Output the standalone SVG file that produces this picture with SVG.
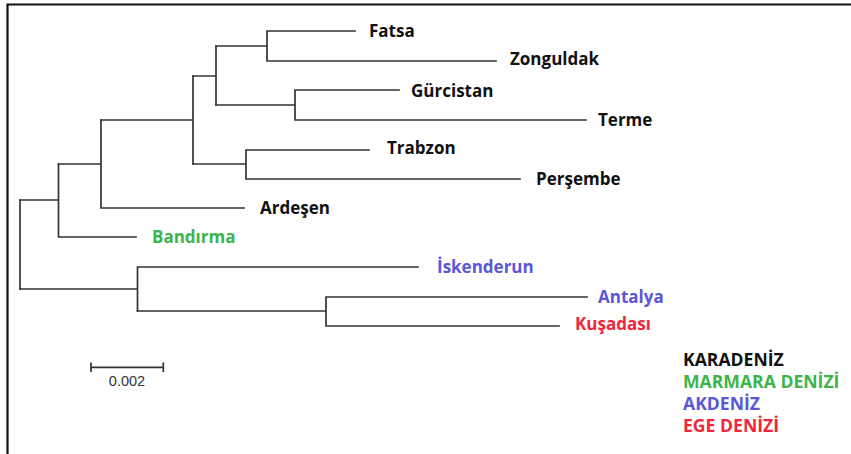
<svg xmlns="http://www.w3.org/2000/svg" width="851" height="454" viewBox="0 0 851 454">
<style>
.br{fill:none;stroke:#333;stroke-width:1.7;stroke-linecap:square}
.lb{font-family:"Open Sans","Liberation Sans",sans-serif;font-weight:bold;font-size:17px}
.lg{font-family:"Open Sans","Liberation Sans",sans-serif;font-weight:bold;font-size:17.6px}
.k{fill:#111}
.g{fill:#3bb54a}
.b{fill:#5a57d8}
.r{fill:#f0263c}
</style>
<rect width="851" height="454" fill="#fff"/>
<path d="M7.5 454V4.5H851" fill="none" stroke="#111" stroke-width="2.2"/>
<g id="connectors" class="br">
<path d="M20 200V289"/>
<path d="M20 200H58.5M58.5 164V237M58.5 237H136"/>
<path d="M58.5 164H101M101 120V208M101 208H244"/>
<path d="M101 120H193M193 76V164"/>
<path d="M193 164H246M246 150V179M246 150H369M246 179H520"/>
<path d="M193 76H216M216 46V105"/>
<path d="M216 46H267M267 31V61M267 31H355M267 61H496"/>
<path d="M216 105H295M295 90V120M295 90H399M295 120H586"/>
<path d="M20 289H137.5M137.5 267V311M137.5 267H418"/>
<path d="M137.5 311H326M326 297V326M326 297H587M326 326H559"/>
</g>
<g id="n-fatsa"><text class="lb k" x="369" y="37">Fatsa</text></g>
<g id="n-zonguldak"><text class="lb k" x="510" y="65">Zonguldak</text></g>
<g id="n-gurcistan"><text class="lb k" x="411" y="97">Gürcistan</text></g>
<g id="n-terme"><text class="lb k" x="598" y="126">Terme</text></g>
<g id="n-trabzon"><text class="lb k" x="387" y="154">Trabzon</text></g>
<g id="n-persembe"><text class="lb k" x="536" y="185">Perşembe</text></g>
<g id="n-ardesen"><text class="lb k" x="260" y="214">Ardeşen</text></g>
<g id="n-bandirma"><text class="lb g" x="152" y="243">Bandırma</text></g>
<g id="n-iskenderun"><text class="lb b" x="437" y="273">İskenderun</text></g>
<g id="n-antalya"><text class="lb b" x="598" y="303">Antalya</text></g>
<g id="n-kusadasi"><text class="lb r" x="575" y="330">Kuşadası</text></g>
<g id="scale">
<path d="M91 367.3H163.3M91 362.5V372M163.3 362.5V372" fill="none" stroke="#333" stroke-width="1.7"/>
<text x="127" y="385.5" text-anchor="middle" font-family="'Liberation Sans',Arial,sans-serif" font-size="14.5" fill="#333">0.002</text>
</g>
<g id="legend">
<text class="lg k" x="683" y="366">KARADENİZ</text>
<text class="lg g" x="683" y="388">MARMARA DENİZİ</text>
<text class="lg b" x="683" y="410">AKDENİZ</text>
<text class="lg r" x="683" y="432">EGE DENİZİ</text>
</g>
</svg>
